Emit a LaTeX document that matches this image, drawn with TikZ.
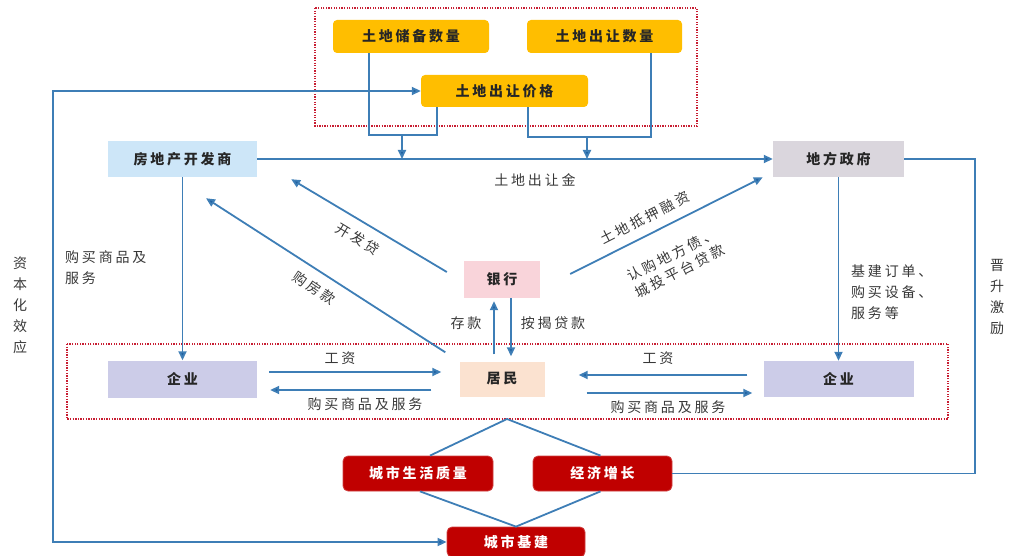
\documentclass[tikz,border=0pt]{standalone}
\usepackage{fontspec}
\newfontfamily\cjk[LetterSpace=20]{Noto Sans CJK SC}
\usetikzlibrary{arrows.meta}

\definecolor{landyellow}{RGB}{255,190,0}
\definecolor{devblue}{RGB}{205,230,248}
\definecolor{govgrey}{RGB}{218,214,221}
\definecolor{bankpink}{RGB}{249,212,218}
\definecolor{residpeach}{RGB}{251,226,208}
\definecolor{firmlav}{RGB}{204,204,232}
\definecolor{cityred}{RGB}{192,0,0}
\definecolor{linkblue}{RGB}{62,126,182}
\definecolor{tipblue}{RGB}{30,95,160}
\definecolor{dotred}{RGB}{200,30,50}

\tikzset{
	box/.style={rectangle, inner sep=0pt, font=\cjk\bfseries\fontsize{14}{16}\selectfont, text=black!85},
	landbox/.style={box, fill=landyellow, rounded corners=4pt, minimum height=33pt},
	citybox/.style={box, fill=cityred, draw=cityred!75!white, line width=0.8pt, rounded corners=5pt, text=white, minimum height=35pt},
	link/.style={draw=linkblue, line width=1.8pt},
	arr/.style={link, -{Triangle[length=9pt,width=8pt,fill=tipblue]}},
	twoway/.style={link, {Triangle[length=9pt,width=8pt,fill=tipblue]}-{Triangle[length=9pt,width=8pt,fill=tipblue]}},
	lbl/.style={font=\cjk\fontsize{14}{21}\selectfont, text=black!78, inner sep=1pt},
	dotbox/.style={draw=dotred, line width=1.6pt, dash pattern=on 1.3pt off 1.3pt},
}

\begin{document}
\begin{tikzpicture}[x=1pt, y=-1pt]
			%%%%% START %%%%%
			\useasboundingbox (0,0) rectangle (1015,556);
			
			\draw[dotbox] (315,8) rectangle (697,126);
			\draw[dotbox] (67,344) rectangle (948,419);
			
			\node[landbox, minimum width=156pt] (store) at (411,36.5) {土地储备数量};
			\node[landbox, minimum width=155pt] (sellnum) at (604.5,36.5) {土地出让数量};
			\node[landbox, minimum width=167pt, minimum height=32pt] (price) at (504.5,91) {土地出让价格};
			
			\node[box, fill=devblue, minimum width=149pt, minimum height=36pt] (dev) at (182.5,159) {房地产开发商};
			\node[box, fill=govgrey, minimum width=131pt, minimum height=36pt] (gov) at (838.5,159) {地方政府};
			\node[box, fill=bankpink, minimum width=76pt, minimum height=37pt] (bank) at (502,279.5) {银行};
			
			\node[box, fill=residpeach, minimum width=85pt, minimum height=35pt] (resid) at (502,379) {居民};
			\node[box, fill=firmlav, minimum width=149pt, minimum height=37pt] (firmL) at (182.5,379) {企业};
			\node[box, fill=firmlav, minimum width=150pt, minimum height=36pt] (firmR) at (838.5,379) {企业};
			
			\node[citybox, minimum width=150pt] (quality) at (418,473.5) {城市生活质量};
			\node[citybox, minimum width=139pt] (growth) at (602.5,473.5) {经济增长};
			\node[citybox, minimum width=138pt, minimum height=30pt] (infra) at (516,542) {城市基建};
			
			% land supply into the land sale line
			\coordinate (jl) at (402,135);
			\coordinate (jr) at (587,137);
			\draw[link] ([xshift=-42]store.south) |- (jl) -| ([xshift=-67.5]price.south);
			\draw[link] ([xshift=23.5]price.south) |- (jr) -| ([xshift=46.5]sellnum.south);
			\draw[arr] (jl) -- (jl |- dev.east);
			\draw[arr] (jr) -- (jr |- dev.east);
			\draw[arr] (dev) -- (gov);
			\node[lbl] (saleLbl) at (535,180) {土地出让金};
			
			% feedback loops
			\coordinate (ltop) at (53,91);
			\coordinate (lbot) at (53,542);
			\draw[twoway] (price.west) -- (ltop) -- (lbot) -- (infra.west);
			\node[lbl, align=center] (capLbl) at (20,305) {资\\本\\化\\效\\应};
			
			\coordinate (rcol) at (975,300);
			\draw[link] (gov.east) -| (rcol) |- (growth.east);
			\node[lbl, align=center] (promoLbl) at (997,297) {晋\\升\\激\\励};
			
			% purchases of developer and government
			\draw[arr] (dev) -- (firmL);
			\node[lbl, anchor=west, align=left] (devBuyLbl) at (64,268) {购买商品及\\服务};
			\draw[arr] (gov) -- (firmR);
			\node[lbl, anchor=west, align=left] (govBuyLbl) at (850,292) {基建订单、\\购买设备、\\服务等};
			
			% bank loans
			\draw[arr] ([shift={(-17,-7.5)}]bank.west) -- ([shift={(34,2)}]dev.south east);
			\node[lbl, rotate=-31] (devLoanLbl) at (358,239) {开发贷};
			\draw[arr] ([shift={(-14,-9)}]resid.north west) -- ([shift={(23.5,21)}]dev.south);
			\node[lbl, rotate=-34] (houseLbl) at (314,288) {购房款};
			\draw[arr] ([shift={(30,-5.5)}]bank.east) -- ([shift={(-10,0)}]gov.south west);
			\node[lbl, rotate=27] (pledgeLbl) at (645,218) {土地抵押融资};
			\node[lbl, rotate=27, align=center, font=\cjk\fontsize{14}{18}\selectfont] (bondLbl) at (676,263) {认购地方债、\\城投平台贷款};
			
			\draw[arr] ([shift={(-8,-7)}]resid.north) -- ([shift={(-8,3)}]bank.south);
			\node[lbl] (depLbl) at (466,323) {存款};
			\draw[arr] ([shift={(9,0)}]bank.south) -- ([shift={(9,-5)}]resid.north);
			\node[lbl] (mortLbl) at (553,323) {按揭贷款};
			
			% wages and consumption
			\draw[arr] ([shift={(12,-7)}]firmL.east) -- ([shift={(-18,-7)}]resid.west);
			\node[lbl] (wageL) at (340,358) {工资};
			\draw[arr] ([shift={(-28,11)}]resid.west) -- ([shift={(13,11)}]firmL.east);
			\node[lbl] (buyL) at (365,404) {购买商品及服务};
			\draw[arr] ([shift={(-16,-4)}]firmR.west) -- ([shift={(34,-4)}]resid.east);
			\node[lbl] (wageR) at (658,358) {工资};
			\draw[arr] ([shift={(42,14)}]resid.east) -- ([shift={(-11,14)}]firmR.west);
			\node[lbl] (buyR) at (668,407) {购买商品及服务};
			
			% city outcomes
			\coordinate (apex) at (507,419);
			\draw[link] ([xshift=12]quality.north) -- (apex) -- ([xshift=-2]growth.north);
			\draw[link] ([xshift=2]quality.south) -- (infra.north) -- ([xshift=-2]growth.south);
			
			%%%%% END %%%%%
\end{tikzpicture}
\end{document}
